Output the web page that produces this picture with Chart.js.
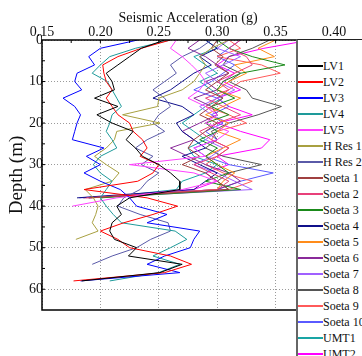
<!DOCTYPE html>
<html>
<head>
<meta charset="utf-8">
<script src="https://cdn.jsdelivr.net/npm/chart.js@4.4.0/dist/chart.umd.min.js"></script>
<style>
  html, body { margin: 0; padding: 0; background: #fff; }
  #wrap { position: relative; width: 362px; height: 356px; overflow: hidden; }
  #legend {
    position: absolute; left: 296px; top: 39px; width: 90px; height: 340px;
    background: #fff; border-top: 1px solid #222; border-left: 2px solid #666;
    font-family: "Liberation Serif", serif; font-size: 12px; color: #111;
  }
  .row { position: absolute; left: 0; height: 16px; width: 90px; }
  .row span.line { position: absolute; left: 0; top: 7px; width: 25px; height: 2px; }
  .row span.txt { position: absolute; left: 25px; top: 0; line-height: 16px; white-space: nowrap; }
</style>
</head>
<body>
<div id="wrap">
  <canvas id="depthChart" width="362" height="356"></canvas>
  <div id="legend"></div>
</div>
<script>
// site names and line colours
const siteNames = ["LV1", "LV2", "LV3", "LV4", "LV5", "H Res 1", "H Res 2",
  "Soeta 1", "Soeta 2", "Soeta 3", "Soeta 4", "Soeta 5", "Soeta 6", "Soeta 7",
  "Soeta 8", "Soeta 9", "Soeta 10", "UMT1", "UMT2"];
const siteColors = ["#000000", "#ff0000", "#0000ff", "#1e9a9a", "#ff40ff", "#a8a040", "#5a5aa8",
  "#a04040", "#e8407a", "#1a8a1a", "#10108a", "#ff8c1a", "#8a2a9a", "#a060ff",
  "#555555", "#ff5a5a", "#5a5aff", "#19a5a5", "#ff00ff"];

// depth (m) of each reading, every 2 m
const depths = [0, 2, 4, 6, 8, 10, 12, 14, 16, 18, 20, 22, 24, 26, 28, 30, 32, 34, 36, 38,
  40, 42, 44, 46, 48, 50, 52, 54, 56, 58];

// seismic acceleration (g) per site
const lv1 = [0.255, 0.235, 0.225, 0.215, 0.205, 0.21, 0.212, 0.195, 0.215, 0.197, 0.21, 0.228, 0.222, 0.23, 0.236,
  0.25, 0.26, 0.268, 0.268, 0.225, 0.214, 0.218, 0.21, 0.208, 0.212, 0.231, 0.224, 0.27, 0.251, 0.184];
const lv2 = [0.26, 0.235, 0.215, 0.202, 0.203, 0.205, 0.21, 0.205, 0.21, 0.215, 0.225, 0.228, 0.236, 0.24, 0.234,
  0.25, 0.245, 0.232, 0.186, 0.24, 0.266, 0.245, 0.22, 0.2, 0.215, 0.225, 0.26, 0.278, 0.255, 0.177];
const lv3 = [0.232, 0.2, 0.19, 0.195, 0.18, 0.178, 0.184, 0.168, 0.178, 0.183, 0.18, 0.178, 0.176, 0.203, 0.188,
  0.2, 0.186, 0.2, 0.217, 0.225, 0.231, 0.257, 0.24, 0.285, 0.28, 0.277, 0.255, 0.24, 0.268, 0.183];
const lv4 = [0.26, 0.23, 0.208, 0.2, 0.193, 0.206, 0.21, 0.214, 0.218, 0.21, 0.208, 0.205, 0.21, 0.214, 0.2,
  0.194, 0.2, 0.21, 0.205, 0.2, 0.205, 0.211, 0.218, 0.264, 0.274, 0.26, 0.245, 0.268, 0.25, 0.208];
const lv5 = [0.265, 0.26, 0.27, 0.278, 0.285, 0.29, 0.285, 0.275, 0.29, 0.3, 0.29, 0.31, 0.3, 0.28, 0.29,
  0.225, 0.28, 0.3, 0.27, 0.214, 0.176];
const hRes1 = [0.31, 0.295, 0.285, 0.29, 0.285, 0.28, 0.27, 0.25, 0.249, 0.219, 0.251, 0.214, 0.212, 0.205, 0.195,
  0.205, 0.216, 0.21, 0.187, 0.194, 0.198, 0.196, 0.193, 0.198, 0.179];
const hRes2 = [0.295, 0.285, 0.27, 0.26, 0.265, 0.255, 0.245, 0.255, 0.26, 0.25, 0.245, 0.255, 0.24, 0.23, 0.245,
  0.235, 0.25, 0.24, 0.234, 0.22, 0.215, 0.234, 0.258, 0.26, 0.243, 0.231, 0.21, 0.193];
const soeta1 = [0.3, 0.295, 0.305, 0.298, 0.31, 0.3, 0.29, 0.305, 0.295, 0.285, 0.3, 0.29, 0.28, 0.275, 0.285,
  0.27, 0.29, 0.3, 0.31, 0.19];
const soeta2 = [0.32, 0.31, 0.325, 0.33, 0.315, 0.3, 0.31, 0.29, 0.305, 0.32, 0.3, 0.285, 0.295, 0.31, 0.3,
  0.28, 0.295, 0.31, 0.3, 0.188];
const soeta3 = [0.3, 0.31, 0.33, 0.358, 0.32, 0.305, 0.3, 0.315, 0.295, 0.31, 0.29, 0.3, 0.285, 0.3, 0.29,
  0.3, 0.31, 0.29, 0.32, 0.2];
const soeta4 = [0.29, 0.3, 0.285, 0.295, 0.28, 0.27, 0.26, 0.245, 0.27, 0.28, 0.265, 0.27, 0.28, 0.29, 0.27,
  0.285, 0.3, 0.29, 0.28, 0.18];
const soeta5 = [0.35, 0.335, 0.349, 0.315, 0.325, 0.31, 0.3, 0.32, 0.305, 0.29, 0.31, 0.3, 0.32, 0.305, 0.29,
  0.3, 0.315, 0.305, 0.3, 0.192];
const soeta6 = [0.285, 0.275, 0.29, 0.3, 0.31, 0.29, 0.3, 0.28, 0.295, 0.3, 0.285, 0.27, 0.28, 0.26, 0.275,
  0.29, 0.31, 0.32, 0.3, 0.185];
const soeta7 = [0.31, 0.3, 0.32, 0.305, 0.29, 0.3, 0.315, 0.3, 0.285, 0.295, 0.31, 0.3, 0.29, 0.305, 0.295,
  0.28, 0.3, 0.315, 0.33, 0.19];
const soeta8 = [0.345, 0.33, 0.31, 0.305, 0.32, 0.31, 0.325, 0.33, 0.355, 0.335, 0.31, 0.295, 0.3, 0.29, 0.305,
  0.338, 0.31, 0.3, 0.31, 0.19];
const soeta9 = [0.31, 0.32, 0.3, 0.338, 0.354, 0.32, 0.31, 0.3, 0.29, 0.31, 0.325, 0.3, 0.295, 0.31, 0.3,
  0.29, 0.305, 0.33, 0.31, 0.186];
const soeta10 = [0.32, 0.31, 0.3, 0.315, 0.305, 0.295, 0.28, 0.3, 0.31, 0.295, 0.305, 0.29, 0.3, 0.28, 0.29,
  0.31, 0.348, 0.32, 0.3, 0.182];
const umt1 = [0.29, 0.3, 0.28, 0.29, 0.3, 0.285, 0.295, 0.305, 0.29, 0.28, 0.27, 0.28, 0.29, 0.275, 0.28,
  0.3, 0.29, 0.27, 0.265, 0.2];
const umt2 = [0.38, 0.34, 0.31, 0.3, 0.315, 0.305, 0.32, 0.3, 0.31, 0.33, 0.3, 0.32, 0.345, 0.338, 0.3,
  0.31, 0.29, 0.3, 0.28, 0.19];

const siteValues = [lv1, lv2, lv3, lv4, lv5, hRes1, hRes2, soeta1, soeta2, soeta3, soeta4,
  soeta5, soeta6, soeta7, soeta8, soeta9, soeta10, umt1, umt2];

const serif = "'Liberation Serif', 'Times New Roman', serif";

const datasets = siteNames.map((name, i) => ({
    label: name,
    data: siteValues[i].map((g, k) => ({ x: g, y: depths[k] })),
    borderColor: siteColors[i],
    backgroundColor: siteColors[i],
    borderWidth: 1,
    pointRadius: 0,
    fill: false,
    tension: 0
}));

// black frame round the plot plus small inward ticks
const framePlugin = {
    id: "frame",
    afterDatasetsDraw(chart) {
        const { ctx, chartArea: a, scales } = chart;
        ctx.save();
        ctx.strokeStyle = "#000";
        ctx.lineWidth = 1;
        ctx.beginPath();
        for (let v = 0.175; v < 0.4; v += 0.025) {
            const px = scales.x.getPixelForValue(v);
            ctx.moveTo(px, a.top);
            ctx.lineTo(px, a.top + 3);
        }
        for (let d = 5; d < 65; d += 5) {
            const py = scales.y.getPixelForValue(d);
            ctx.moveTo(a.left, py);
            ctx.lineTo(a.left + 3, py);
        }
        ctx.stroke();
        ctx.lineWidth = 1.5;
        ctx.strokeRect(a.left, a.top, a.right - a.left, a.bottom - a.top);
        ctx.restore();
    }
};

const ctx = document.getElementById("depthChart").getContext("2d");

const chart = new Chart(ctx, {
    type: "line",
    data: { datasets: datasets },
    plugins: [framePlugin],
    options: {
        responsive: false,
        animation: false,
        layout: { padding: { left: 0, right: 28, top: 0, bottom: 46 } },
        plugins: {
            legend: { display: false },
            tooltip: { enabled: false }
        },
        scales: {
            x: {
                type: "linear",
                position: "top",
                min: 0.15,
                max: 0.40,
                afterFit: scale => { scale.height = 40; },
                ticks: {
                    stepSize: 0.05,
                    maxRotation: 0,
                    padding: -1,
                    color: "#111",
                    font: { family: serif, size: 14 },
                    callback: v => v.toFixed(2)
                },
                grid: { color: "#9a9a9a", lineWidth: 1, drawTicks: false },
                border: { display: false, dash: [1, 2] },
                title: {
                    display: true,
                    text: "Seismic Acceleration (g)",
                    color: "#111",
                    font: { family: serif, size: 14 },
                    padding: { top: 10, bottom: 0 }
                }
            },
            y: {
                type: "linear",
                reverse: true,
                min: 0,
                max: 65,
                afterFit: scale => { scale.width = 42; },
                ticks: {
                    stepSize: 10,
                    includeBounds: false,
                    padding: -1,
                    color: "#111",
                    font: { family: serif, size: 14 }
                },
                grid: { color: "#9a9a9a", lineWidth: 1, drawTicks: false },
                border: { display: false, dash: [1, 2] },
                title: {
                    display: true,
                    text: "Depth (m)",
                    color: "#111",
                    font: { family: serif, size: 19 },
                    padding: { top: 6, bottom: 0 }
                }
            }
        }
    }
});

// legend box that sits over the right part of the plot
const legendBox = document.getElementById("legend");
chart.data.datasets.forEach((ds, i) => {
    const row = document.createElement("div");
    row.className = "row";
    row.style.top = (18 + i * 16) + "px";
    row.innerHTML = '<span class="line" style="background:' + ds.borderColor + '"></span>' +
        '<span class="txt">' + ds.label + '</span>';
    legendBox.appendChild(row);
});
</script>
</body>
</html>
